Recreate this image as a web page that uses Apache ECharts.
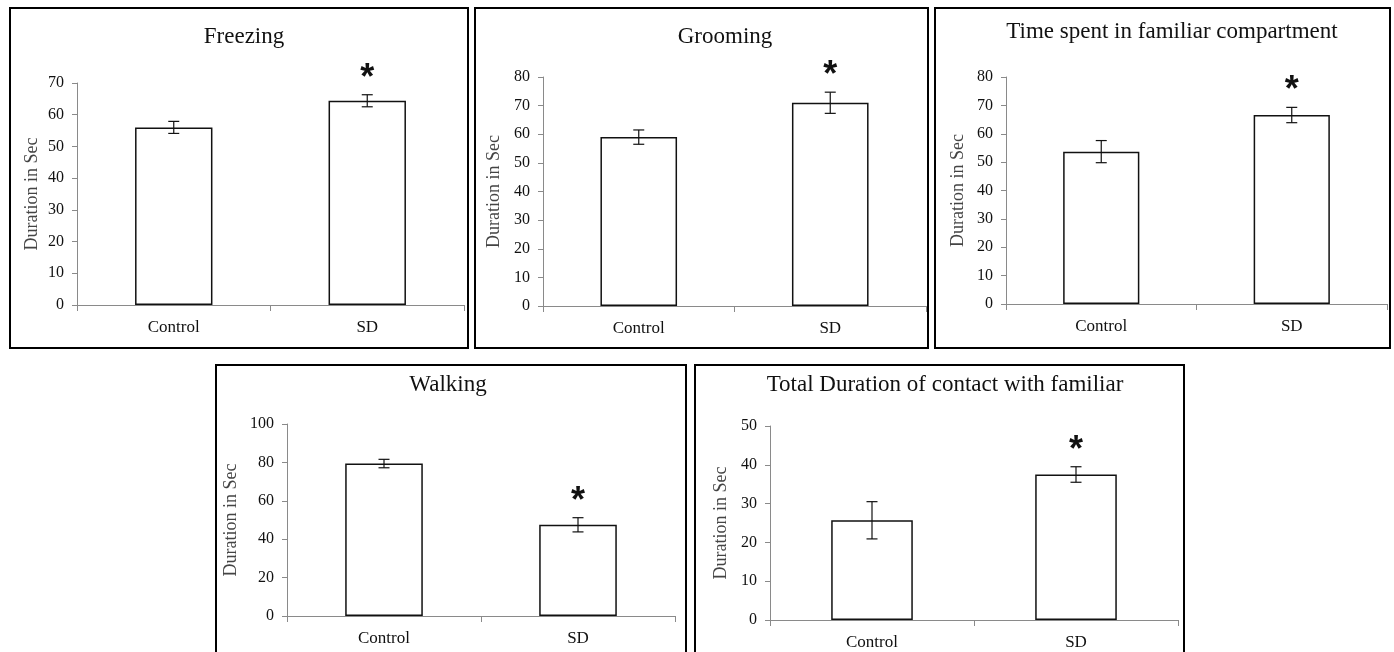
<!DOCTYPE html>
<html>
<head>
<meta charset="utf-8">
<script src="https://cdn.jsdelivr.net/npm/echarts@6/dist/echarts.min.js"></script>
<style>
html,body{margin:0;padding:0;background:#fff;}
#chart{width:1394px;height:652px;}
</style>
</head>
<body>
<div id="chart"></div>
<script>
// ---- data ----
const categories = ['Control', 'SD'];
const panelTitles = ['Freezing', 'Grooming', 'Time spent in familiar compartment', 'Walking', 'Total Duration of contact with familiar'];
const yAxisName = 'Duration in Sec';

const freezingMean = [56, 64.4];
const freezingErr = [1.9, 1.9];
const groomingMean = [59, 71];
const groomingErr = [2.5, 3.7];
const familiarCompMean = [53.7, 66.6];
const familiarCompErr = [3.9, 2.7];
const walkingMean = [79.4, 47.5];
const walkingErr = [2.2, 3.7];
const contactMean = [25.7, 37.5];
const contactErr = [4.8, 2.0];

const significant = [[false, true], [false, true], [false, true], [false, true], [false, true]];

const yMax = [70, 80, 80, 100, 50];
const yInterval = [10, 10, 10, 20, 10];

// ---- layout (positions / styles) ----
const means = [freezingMean, groomingMean, familiarCompMean, walkingMean, contactMean];
const errs = [freezingErr, groomingErr, familiarCompErr, walkingErr, contactErr];

const grids = [
  {left: 77, top: 83, width: 387, height: 222},
  {left: 543, top: 77, width: 383, height: 229},
  {left: 1006, top: 77, width: 381, height: 227},
  {left: 287, top: 424, width: 388, height: 192},
  {left: 770, top: 426, width: 408, height: 194}
];
const nameGaps = [36, 40, 39, 47, 40];
const titlePos = [[244, 37], [725, 37], [1172, 32], [448, 385], [945, 385]];
const boxes = [
  [10, 8, 458, 340], [475, 8, 453, 340], [935, 8, 455, 340],
  [216, 365, 470, 290], [695, 365, 489, 290]
];

const FONT = 'Liberation Serif';
const AXIS_COLOR = '#8a8a8a';

const chart = echarts.init(document.getElementById('chart'), null, {renderer: 'canvas'});

const option = {
  backgroundColor: '#fff',
  animation: false,
  grid: grids.map(g => Object.assign({containLabel: false}, g)),
  xAxis: grids.map((g, i) => ({
    type: 'category',
    gridIndex: i,
    data: categories,
    boundaryGap: true,
    axisLine: {lineStyle: {color: AXIS_COLOR, width: 1}},
    axisTick: {show: true, length: 6, lineStyle: {color: AXIS_COLOR}},
    axisLabel: {color: '#111', fontFamily: FONT, fontSize: 17, margin: 14},
    splitLine: {show: false}
  })),
  yAxis: grids.map((g, i) => ({
    type: 'value',
    gridIndex: i,
    min: 0,
    max: yMax[i],
    interval: yInterval[i],
    name: yAxisName,
    nameLocation: 'middle',
    nameGap: nameGaps[i],
    nameTextStyle: {color: '#444', fontFamily: FONT, fontSize: 18},
    axisLine: {show: true, lineStyle: {color: AXIS_COLOR, width: 1}},
    axisTick: {show: true, length: 5, lineStyle: {color: AXIS_COLOR}},
    axisLabel: {color: '#111', fontFamily: FONT, fontSize: 16, margin: 13},
    splitLine: {show: false}
  })),
  series: [],
  graphic: []
};

means.forEach((m, i) => {
  option.series.push({
    type: 'bar',
    xAxisIndex: i,
    yAxisIndex: i,
    z: 2,
    data: m,
    barWidth: '40%',
    itemStyle: {color: '#fff', borderColor: '#111', borderWidth: 1.5},
    silent: true
  });
  option.series.push({
    type: 'custom',
    xAxisIndex: i,
    yAxisIndex: i,
    z: 5,
    clip: false,
    silent: true,
    data: m.map((v, j) => [j, v, errs[i][j], significant[i][j] ? 1 : 0]),
    renderItem: function (params, api) {
      const x = api.value(0), v = api.value(1), e = api.value(2), s = api.value(3);
      const top = api.coord([x, v + e]);
      const bot = api.coord([x, v - e]);
      const hw = 5.5;
      const style = {stroke: '#111', lineWidth: 1.2};
      const children = [
        {type: 'line', shape: {x1: top[0], y1: top[1], x2: bot[0], y2: bot[1]}, style: style},
        {type: 'line', shape: {x1: top[0] - hw, y1: top[1], x2: top[0] + hw, y2: top[1]}, style: style},
        {type: 'line', shape: {x1: bot[0] - hw, y1: bot[1], x2: bot[0] + hw, y2: bot[1]}, style: style}
      ];
      if (s) {
        children.push({
          type: 'text',
          x: top[0],
          y: top[1] - 16,
          style: {text: '*', fill: '#111', fontFamily: 'Liberation Sans', fontWeight: 'bold', fontSize: 36, align: 'center', verticalAlign: 'middle'}
        });
      }
      return {type: 'group', children: children};
    }
  });
});

panelTitles.forEach((t, i) => {
  option.graphic.push({
    type: 'text',
    x: titlePos[i][0],
    y: titlePos[i][1],
    silent: true,
    style: {text: t, fill: '#111', fontFamily: FONT, fontSize: 23, align: 'center', verticalAlign: 'middle'}
  });
});

boxes.forEach(b => {
  option.graphic.push({
    type: 'rect',
    shape: {x: b[0], y: b[1], width: b[2], height: b[3]},
    silent: true,
    style: {fill: 'none', stroke: '#000', lineWidth: 2}
  });
});

chart.setOption(option);
</script>
</body>
</html>
